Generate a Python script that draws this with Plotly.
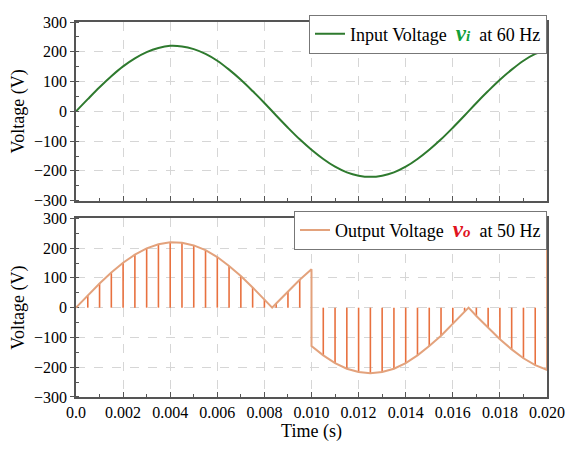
import plotly.graph_objects as go

# Sample times (s)
time_s = [0.0, 0.0005, 0.001, 0.0015, 0.002, 0.0025, 0.003, 0.0035, 0.004, 0.0045,
          0.005, 0.0055, 0.006, 0.0065, 0.007, 0.0075, 0.008, 0.0085, 0.009, 0.0095,
          0.010, 0.0105, 0.011, 0.0115, 0.012, 0.0125, 0.013, 0.0135, 0.014, 0.0145,
          0.015, 0.0155, 0.016, 0.0165, 0.017, 0.0175, 0.018, 0.0185, 0.019, 0.0195, 0.020]

# Input voltage v_i (60 Hz)
input_v = [0, 41, 81, 118, 151, 178, 199, 213, 220, 218,
           209, 193, 170, 140, 106, 68, 28, -14, -55, -94,
           -129, -160, -186, -205, -216, -220, -216, -205, -186, -160,
           -129, -94, -55, -14, 28, 68, 106, 140, 170, 193, 207]

# Output envelope (bottom panel)
env_t = [0.0, 0.0005, 0.001, 0.0015, 0.002, 0.0025, 0.003, 0.0035, 0.004, 0.0045,
         0.005, 0.0055, 0.006, 0.0065, 0.007, 0.0075, 0.008, 0.00833, 0.0085, 0.009, 0.0095,
         0.010, 0.010, 0.0105, 0.011, 0.0115, 0.012, 0.0125, 0.013, 0.0135, 0.014, 0.0145,
         0.015, 0.0155, 0.016, 0.0165, 0.01667, 0.017, 0.0175, 0.018, 0.0185, 0.019, 0.0195,
         0.020, 0.020]
env_v = [0, 41, 81, 118, 151, 178, 199, 213, 220, 218,
         209, 193, 170, 140, 106, 68, 28, 0, 14, 55, 94,
         129, -129, -160, -186, -205, -216, -220, -216, -205, -186, -160,
         -129, -94, -55, -14, 0, -28, -68, -106, -140, -170, -193,
         -209, 300]

# Output voltage pulses v_o (stems from 0)
stem_t = [0.0005, 0.001, 0.0015, 0.002, 0.0025, 0.003, 0.0035, 0.004, 0.0045,
          0.005, 0.0055, 0.006, 0.0065, 0.007, 0.0075, 0.008, 0.0085, 0.009, 0.0095,
          0.0105, 0.011, 0.0115, 0.012, 0.0125, 0.013, 0.0135, 0.014, 0.0145,
          0.015, 0.0155, 0.016, 0.0165, 0.017, 0.0175, 0.018, 0.0185, 0.019, 0.0195]
stem_v = [41, 81, 118, 151, 178, 199, 213, 220, 218,
          209, 193, 170, 140, 106, 68, 28, 14, 55, 94,
          -160, -186, -205, -216, -220, -216, -205, -186, -160,
          -129, -94, -55, -14, -28, -68, -106, -140, -170, -193]

x_ticks = [0.0, 0.002, 0.004, 0.006, 0.008, 0.010, 0.012, 0.014, 0.016, 0.018, 0.020]
x_labels = ["0.0", "0.002", "0.004", "0.006", "0.008", "0.010", "0.012", "0.014", "0.016", "0.018", "0.020"]
y_ticks = [-300, -200, -100, 0, 100, 200, 300]

GREEN = "#2e7a2e"
ENV = "#e3a27c"
STEM = "#e8713f"
FONT = "Liberation Serif"

sx, sy = [], []
for t, v in zip(stem_t, stem_v):
    sx += [t, t, None]
    sy += [0, v, None]

fig = go.Figure()
fig.add_trace(go.Scatter(
    x=time_s, y=input_v, mode="lines", line=dict(color=GREEN, width=2, shape="spline"),
    name="Input Voltage  <span style='color:#12a03a;font-size:23px'><b><i>v</i></b></span>"
         "<span style='color:#12a03a;font-size:15px'><b><i>i</i></b></span>  at 60 Hz",
    xaxis="x", yaxis="y", legend="legend"))
fig.add_trace(go.Scatter(
    x=sx, y=sy, mode="lines", line=dict(color=STEM, width=1.6),
    showlegend=False, xaxis="x2", yaxis="y2", hoverinfo="skip"))
fig.add_trace(go.Scatter(
    x=env_t, y=env_v, mode="lines", line=dict(color=ENV, width=2),
    name="Output Voltage  <span style='color:#e0141e;font-size:23px'><b><i>v</i></b></span>"
         "<span style='color:#e0141e;font-size:15px'><b><i>o</i></b></span>  at 50 Hz",
    xaxis="x2", yaxis="y2", legend="legend2"))

axis_common = dict(
    showline=True, linecolor="#555555", linewidth=1.5, mirror=True,
    showgrid=True, gridcolor="#d6d6d6", griddash="dash", gridwidth=1,
    zeroline=False, tickfont=dict(family=FONT, size=16, color="black"),
)

xa = dict(axis_common, range=[0, 0.020], tickvals=x_ticks, ticktext=x_labels,
          ticks="inside", ticklen=5, tickcolor="#555555",
          minor=dict(dtick=0.001, tick0=0, ticks="inside", ticklen=3, tickcolor="#555555", showgrid=False))
ya = dict(axis_common, range=[-300, 300], tickvals=y_ticks,
          ticks="outside", ticklen=4, tickcolor="#555555",
          minor=dict(dtick=50, tick0=0, ticks="inside", ticklen=3, tickcolor="#555555", showgrid=False),
          title=dict(text="Voltage (V)", font=dict(family=FONT, size=18, color="black"), standoff=5))

# page body has an 8px margin, so the figure is offset by (8, 8)
W, H = 566, 443
top_lo = (397 - 197) / 382
bot_hi = (397 - 215) / 382

leg_common = dict(xref="paper", yref="paper", xanchor="right", yanchor="top",
                  bgcolor="white", bordercolor="#777777", borderwidth=1,
                  font=dict(family=FONT, size=18, color="black"),
                  itemwidth=30, tracegroupgap=0)

fig.update_layout(
    width=W, height=H,
    margin=dict(l=68, r=27, t=7, b=54),
    paper_bgcolor="white", plot_bgcolor="white",
    font=dict(family=FONT, size=18, color="black"),
    xaxis=dict(xa, anchor="y", showticklabels=False, matches="x2"),
    yaxis=dict(ya, domain=[top_lo, 1], anchor="x"),
    xaxis2=dict(xa, anchor="y2", layer="below traces",
                title=dict(text="Time (s)", font=dict(family=FONT, size=18, color="black"), standoff=4)),
    yaxis2=dict(ya, domain=[0, bot_hi], anchor="x2", layer="below traces"),
    legend=dict(leg_common, x=1, y=1.02),
    legend2=dict(leg_common, x=1, y=bot_hi + 0.02),
    showlegend=True,
)

fig.write_html("out.html")
